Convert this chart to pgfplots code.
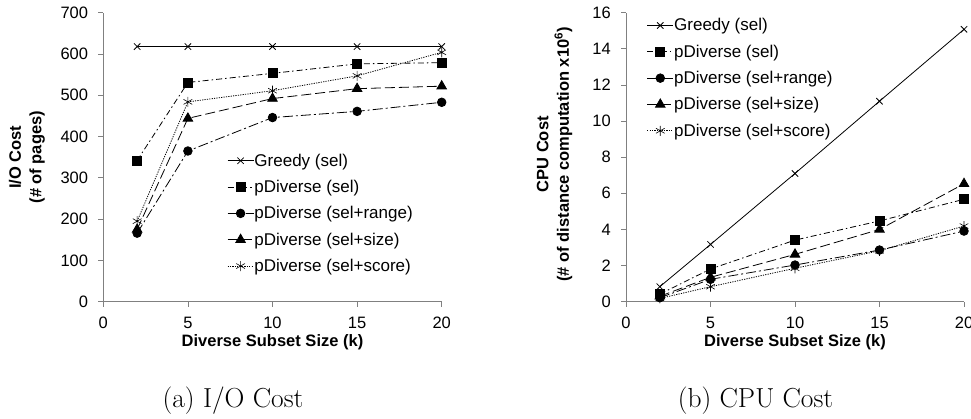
\documentclass[border=0pt]{standalone}
\usepackage{fontspec}
\setmainfont{Liberation Sans}
\newfontfamily\capfont{Latin Modern Roman}
\usepackage{pgfplots}
\pgfplotsset{compat=1.18}

\pgfplotsset{
  costaxis/.style={
    scale only axis, width=338.4pt, height=289pt,
    anchor=south west,
    xmin=0, xmax=20, xtick={0,5,10,15,20},
    axis x line*=bottom, axis y line*=left,
    axis line style={black!50, line width=0.8pt},
    tick style={black!50, line width=0.8pt},
    tick align=outside, major tick length=5pt,
    every tick label/.append style={font=\fontsize{16.5}{19}\selectfont, text=black},
    /pgf/number format/assume math mode=true,
    xticklabel style={anchor=base, inner sep=0pt, yshift=-22pt},
    yticklabel style={anchor=east, inner sep=0pt, xshift=-10pt},
    xlabel={Diverse Subset Size (k)},
    xlabel style={font=\bfseries\fontsize{16.5}{19}\selectfont, at={(axis description cs:0.5,-0.1557)}, anchor=base},
    ylabel style={font=\bfseries\fontsize{16.5}{20.5}\selectfont, align=center, anchor=center},
    legend style={draw=none, fill=none, inner sep=0pt, anchor=north west, row sep=11.5pt,
      nodes={inner sep=0.5pt}, font=\fontsize{17}{19}\selectfont},
    legend cell align=left,
    every axis plot/.append style={black, line width=0.8pt},
    clip=false,
  },
  % legend sample: a 26pt line with the mark in its middle
  wideimg/.style={legend image code/.code={%
    \draw[mark repeat=2,mark phase=2,##1] plot coordinates {(0pt,0pt) (13pt,0pt) (26pt,0pt)};}},
  greedy/.style={wideimg, solid, mark=x, mark size=4.5pt, mark options={solid}},
  psel/.style={wideimg, dash pattern=on 6pt off 3pt on 1.5pt off 3pt, mark=square*, mark size=4.5pt, mark options={solid}},
  prange/.style={wideimg, dash pattern=on 10pt off 3pt on 2pt off 3pt, mark=*, mark size=4.3pt, mark options={solid}},
  psize/.style={wideimg, dash pattern=on 10pt off 4pt, mark=triangle*, mark size=5.5pt, mark options={solid}},
  pscore/.style={wideimg, dash pattern=on 1.2pt off 1.2pt, mark=asterisk, mark size=5pt, mark options={solid, line width=0.6pt}},
}

\begin{document}
\begin{tikzpicture}

% (a) I/O cost
\begin{axis}[costaxis, at={(103.3pt,117.3pt)},
  ymin=0, ymax=700, ytick={0,100,...,700},
  ylabel={I/O Cost\\(\# of pages)},
  ylabel style={at={(axis description cs:-0.2255,0.5)}},
  legend style={at={(axis description cs:0.3655,0.514)}}]
\addplot[greedy] coordinates {(2,618) (5,618) (10,618) (15,618) (20,618)};
\addplot[psel]   coordinates {(2,342) (5,531) (10,553) (15,576) (20,579)};
\addplot[prange] coordinates {(2,166) (5,365) (10,446) (15,461) (20,483)};
\addplot[psize]  coordinates {(2,175) (5,444) (10,492) (15,516) (20,522)};
\addplot[pscore] coordinates {(2,195) (5,484) (10,511) (15,547) (20,604)};
\legend{Greedy (sel), pDiverse (sel), pDiverse (sel+range), pDiverse (sel+size), pDiverse (sel+score)}
\end{axis}

% (b) CPU cost
\begin{axis}[costaxis, at={(626pt,117.3pt)}, width=338pt,
  ymin=0, ymax=16, ytick={0,2,...,16},
  ylabel={CPU Cost\\(\# of distance computation x10\textsuperscript{6})},
  ylabel style={at={(axis description cs:-0.2115,0.51)}},
  legend style={at={(axis description cs:0.0612,0.982)}}]
\addplot[greedy] coordinates {(2,0.83) (5,3.17) (10,7.1) (15,11.1) (20,15.08)};
\addplot[psel]   coordinates {(2,0.42) (5,1.81) (10,3.41) (15,4.47) (20,5.67)};
\addplot[prange] coordinates {(2,0.22) (5,1.24) (10,2.03) (15,2.86) (20,3.91)};
\addplot[psize]  coordinates {(2,0.30) (5,1.35) (10,2.62) (15,4.00) (20,6.53)};
\addplot[pscore] coordinates {(2,0.18) (5,0.83) (10,1.85) (15,2.82) (20,4.19)};
\legend{Greedy (sel), pDiverse (sel), pDiverse (sel+range), pDiverse (sel+size), pDiverse (sel+score)}
\end{axis}

\node[anchor=base, font=\capfont\fontsize{27.5}{31}\selectfont] at (233pt,11pt) {(a) I/O Cost};
\node[anchor=base, font=\capfont\fontsize{27.5}{31}\selectfont] at (755.5pt,11pt) {(b) CPU Cost};

\pgfresetboundingbox
\useasboundingbox (0pt,0pt) rectangle (971pt,419pt);
\end{tikzpicture}
\end{document}
